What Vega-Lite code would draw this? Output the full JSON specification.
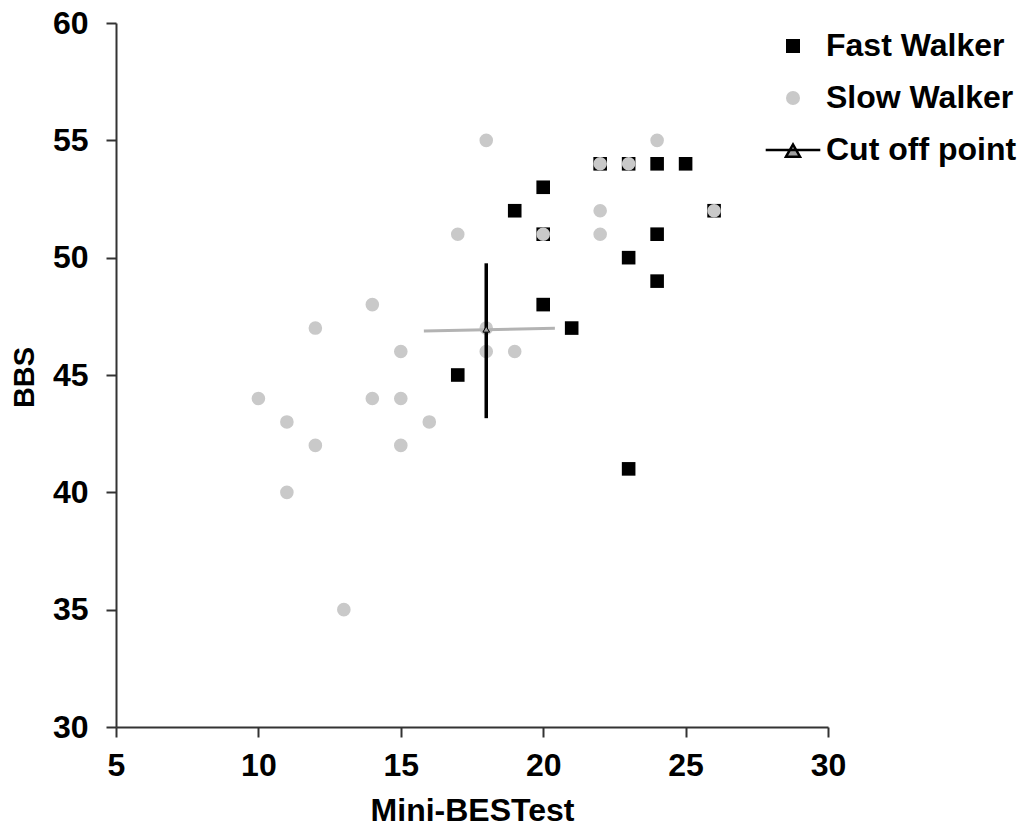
{
  "$schema": "https://vega.github.io/schema/vega-lite/v6.json",
  "width": 712,
  "height": 704,
  "autosize": {"type": "none"},
  "padding": {"left": 116, "top": 23, "right": 198, "bottom": 99},
  "background": "white",
  "config": {
    "font": "Liberation Sans",
    "view": {"stroke": null},
    "axis": {
      "grid": false,
      "domainColor": "#333333",
      "domainWidth": 2,
      "tickColor": "#333333",
      "tickWidth": 2,
      "tickSize": 10,
      "labelFont": "Liberation Sans",
      "labelFontSize": 32,
      "labelFontWeight": "bold",
      "labelColor": "black",
      "labelFlush": false,
      "labelOverlap": false,
      "titleFont": "Liberation Sans",
      "titleFontWeight": "bold",
      "titleColor": "black"
    }
  },
  "datasets": {
    "points": [
      {"mini": 17, "bbs": 45, "group": "Fast Walker"},
      {"mini": 19, "bbs": 52, "group": "Fast Walker"},
      {"mini": 20, "bbs": 53, "group": "Fast Walker"},
      {"mini": 20, "bbs": 51, "group": "Fast Walker"},
      {"mini": 20, "bbs": 48, "group": "Fast Walker"},
      {"mini": 21, "bbs": 47, "group": "Fast Walker"},
      {"mini": 22, "bbs": 54, "group": "Fast Walker"},
      {"mini": 23, "bbs": 54, "group": "Fast Walker"},
      {"mini": 24, "bbs": 54, "group": "Fast Walker"},
      {"mini": 25, "bbs": 54, "group": "Fast Walker"},
      {"mini": 26, "bbs": 52, "group": "Fast Walker"},
      {"mini": 23, "bbs": 50, "group": "Fast Walker"},
      {"mini": 24, "bbs": 51, "group": "Fast Walker"},
      {"mini": 24, "bbs": 49, "group": "Fast Walker"},
      {"mini": 23, "bbs": 41, "group": "Fast Walker"},
      {"mini": 10, "bbs": 44, "group": "Slow Walker"},
      {"mini": 11, "bbs": 43, "group": "Slow Walker"},
      {"mini": 11, "bbs": 40, "group": "Slow Walker"},
      {"mini": 12, "bbs": 47, "group": "Slow Walker"},
      {"mini": 12, "bbs": 42, "group": "Slow Walker"},
      {"mini": 13, "bbs": 35, "group": "Slow Walker"},
      {"mini": 14, "bbs": 48, "group": "Slow Walker"},
      {"mini": 14, "bbs": 44, "group": "Slow Walker"},
      {"mini": 15, "bbs": 46, "group": "Slow Walker"},
      {"mini": 15, "bbs": 44, "group": "Slow Walker"},
      {"mini": 15, "bbs": 42, "group": "Slow Walker"},
      {"mini": 16, "bbs": 43, "group": "Slow Walker"},
      {"mini": 17, "bbs": 51, "group": "Slow Walker"},
      {"mini": 18, "bbs": 55, "group": "Slow Walker"},
      {"mini": 18, "bbs": 47, "group": "Slow Walker"},
      {"mini": 18, "bbs": 46, "group": "Slow Walker"},
      {"mini": 19, "bbs": 46, "group": "Slow Walker"},
      {"mini": 20, "bbs": 51, "group": "Slow Walker"},
      {"mini": 22, "bbs": 54, "group": "Slow Walker"},
      {"mini": 22, "bbs": 52, "group": "Slow Walker"},
      {"mini": 22, "bbs": 51, "group": "Slow Walker"},
      {"mini": 23, "bbs": 54, "group": "Slow Walker"},
      {"mini": 24, "bbs": 55, "group": "Slow Walker"},
      {"mini": 26, "bbs": 52, "group": "Slow Walker"}
    ],
    "cutoff": [
      {"mini": 18, "bbs": 46.95, "bbs_lo": 43.16, "bbs_hi": 49.76, "mini_lo": 15.81, "mini_hi": 20.41, "bbs_left": 46.88, "bbs_right": 46.99}
    ]
  },
  "layer": [
    {
      "data": {"name": "points"},
      "mark": {"type": "point", "filled": true, "size": 185, "opacity": 1},
      "encoding": {
        "x": {
          "field": "mini",
          "type": "quantitative",
          "scale": {"domain": [5, 30], "nice": false, "zero": false},
          "axis": {
            "values": [5, 10, 15, 20, 25, 30],
            "title": "Mini-BESTest",
            "labelBaseline": "alphabetic",
            "labelPadding": 38,
            "titleFontSize": 32,
            "titleBaseline": "alphabetic",
            "titleX": 356,
            "titleY": 93
          }
        },
        "y": {
          "field": "bbs",
          "type": "quantitative",
          "scale": {"domain": [30, 60], "nice": false, "zero": false},
          "axis": {
            "values": [30, 35, 40, 45, 50, 55, 60],
            "title": "BBS",
            "labelPadding": 18,
            "titleFontSize": 29,
            "titleAngle": -90,
            "titleAlign": "center",
            "titleBaseline": "alphabetic",
            "titleX": -83,
            "titleY": 354
          }
        },
        "color": {
          "field": "group",
          "type": "nominal",
          "scale": {
            "domain": ["Fast Walker", "Slow Walker", "Cut off point"],
            "range": ["#000000", "#c9c9c9", "#a0a0a0"]
          },
          "legend": {
            "title": null,
            "orient": "none",
            "legendX": 661,
            "legendY": 7,
            "padding": 0,
            "labelFont": "Liberation Sans",
            "labelFontSize": 32,
            "labelFontWeight": "bold",
            "labelColor": "black",
            "labelLimit": 400,
            "symbolSize": 196,
            "rowPadding": 20,
            "labelOffset": 17,
            "symbolOpacity": 1,
            "encode": {
              "symbols": {
                "update": {
                  "stroke": [
                    {"test": "datum.value === 'Cut off point'", "value": "black"},
                    {"value": "transparent"}
                  ],
                  "strokeWidth": {"value": 2.5}
                }
              }
            }
          }
        },
        "shape": {
          "field": "group",
          "type": "nominal",
          "scale": {
            "domain": ["Fast Walker", "Slow Walker", "Cut off point"],
            "range": ["square", "circle", "M-3.9,0H3.9M-1,0.95L0,-0.8L1,0.95Z"]
          }
        }
      }
    },
    {
      "data": {"name": "cutoff"},
      "mark": {"type": "rule", "color": "#b3b3b3", "strokeWidth": 3},
      "encoding": {
        "x": {"field": "mini_lo", "type": "quantitative"},
        "x2": {"field": "mini_hi"},
        "y": {"field": "bbs_left", "type": "quantitative"},
        "y2": {"field": "bbs_right"}
      }
    },
    {
      "data": {"name": "cutoff"},
      "mark": {"type": "rule", "color": "#000000", "strokeWidth": 3.5},
      "encoding": {
        "x": {"field": "mini", "type": "quantitative"},
        "y": {"field": "bbs_lo", "type": "quantitative"},
        "y2": {"field": "bbs_hi"}
      }
    },
    {
      "data": {"name": "cutoff"},
      "mark": {"type": "point", "shape": "triangle-up", "filled": true, "size": 45, "color": "#a0a0a0", "stroke": "black", "strokeWidth": 1, "opacity": 1},
      "encoding": {
        "x": {"field": "mini", "type": "quantitative"},
        "y": {"field": "bbs", "type": "quantitative"}
      }
    }
  ]
}
